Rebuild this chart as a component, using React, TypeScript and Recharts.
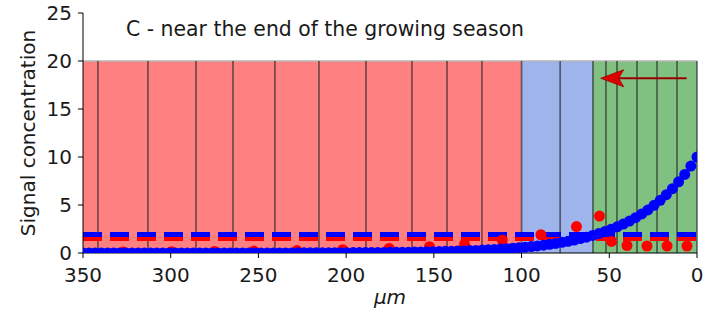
import React from 'react';
import {
    ComposedChart,
    Scatter,
    XAxis,
    YAxis,
    ReferenceArea,
    ReferenceLine,
    ReferenceDot
} from 'recharts';

// cell boundaries along the root (µm), left to right on the reversed axis
const cellEdges = [350, 341.5, 313, 285.6, 264.5, 240.6, 215.5, 188.7, 162.5, 142.5, 122.6, 100, 78, 59.3, 51.9, 45.6, 34.2, 22.8, 11.4, 0];
const cellZones = ['red', 'red', 'red', 'red', 'red', 'red', 'red', 'red', 'red', 'red', 'red', 'blue', 'blue', 'green', 'green', 'green', 'green', 'green', 'green'];

// measured signal per cell (red dots)
const cellX = [327, 299.5, 275, 252.6, 228, 202, 175.5, 152.5, 132.5, 111, 89, 68.7, 55.6, 48.7, 39.9, 28.5, 17.1, 5.7];
const cellY = [0.1, 0.12, 0.15, 0.2, 0.25, 0.35, 0.48, 0.65, 0.92, 1.35, 1.9, 2.75, 3.85, 1.2, 0.78, 0.73, 0.73, 0.73];

// signal profile (blue dots)
const profileX = [
    0, 3.5, 7, 10.5, 14, 17.5, 21, 24.5, 28, 31.5,
    35, 38.5, 42, 45.5, 49, 52.5, 56, 59.5, 63, 66.5,
    70, 73.5, 77, 80.5, 84, 87.5, 91, 94.5, 98, 101.5,
    105, 108.5, 112, 115.5, 119, 122.5, 126, 129.5, 133, 136.5,
    140, 143.5, 147, 150.5, 154, 157.5, 161, 164.5, 168, 171.5,
    175, 178.5, 182, 185.5, 189, 192.5, 196, 199.5, 203, 206.5,
    210, 213.5, 217, 220.5, 224, 227.5, 231, 234.5, 238, 241.5,
    245, 248.5, 252, 255.5, 259, 262.5, 266, 269.5, 273, 276.5,
    280, 283.5, 287, 290.5, 294, 297.5, 301, 304.5, 308, 311.5,
    315, 318.5, 322, 325.5, 329, 332.5, 336, 339.5, 343, 346.5,
    350
];
const profileY = [
    10.0, 9.05, 8.19, 7.41, 6.7, 6.07, 5.49, 4.97, 4.49, 4.07,
    3.68, 3.33, 3.01, 2.73, 2.47, 2.23, 2.02, 1.83, 1.65, 1.5,
    1.35, 1.22, 1.11, 1.0, 0.91, 0.82, 0.74, 0.67, 0.61, 0.55,
    0.5, 0.45, 0.41, 0.37, 0.33, 0.3, 0.27, 0.25, 0.22, 0.2,
    0.18, 0.17, 0.15, 0.14, 0.12, 0.11, 0.1, 0.09, 0.08, 0.07,
    0.07, 0.06, 0.05, 0.05, 0.04, 0.04, 0.04, 0.03, 0.03, 0.03,
    0.02, 0.02, 0.02, 0.02, 0.02, 0.02, 0.01, 0.01, 0.01, 0.01,
    0.01, 0.01, 0.01, 0.01, 0.01, 0.01, 0.01, 0.01, 0.01, 0.01,
    0.01, 0, 0, 0, 0, 0, 0, 0, 0, 0,
    0, 0, 0, 0, 0, 0, 0, 0, 0, 0,
    0
];

const redMean = 1.51;
const blueMean = 1.93;
const cellTop = 20;
const arrowTail = 5.9;
const arrowTip = 54.9;
const arrowLevel = 18.2;

const xTicks = [0, 50, 100, 150, 200, 250, 300, 350];
const yTicks = [0, 5, 10, 15, 20, 25];

const zoneFill: Record<string, string> = {
    red: '#ff8080',
    blue: '#a0b4ec',
    green: '#80c080'
};

const font = '"DejaVu Sans", sans-serif';

const cellPoints = cellX.map((x, i) => ({ x, y: cellY[i] }));
const profilePoints = profileX.map((x, i) => ({ x, y: profileY[i] }));

const Dot = (color: string, r: number) => (p: any) => (
    <circle cx={p.cx} cy={p.cy} r={r} fill={color} />
);

const ArrowHead = (p: any) => {
    const { cx, cy } = p;
    const pts = `${cx},${cy} ${cx + 23},${cy - 8.5} ${cx + 18},${cy} ${cx + 23},${cy + 8.5}`;
    return <polygon points={pts} fill="#dd0000" stroke="#a00000" strokeWidth={0.8} />;
};

const App: React.FC = () => {
    return (
        <div style={{ position: 'absolute', left: 0, top: 0, width: 712, height: 314, background: '#fff', fontFamily: font }}>
            <div
                style={{
                    position: 'absolute',
                    left: 126,
                    top: 19,
                    fontSize: 20.4,
                    lineHeight: '20px',
                    color: '#1a1a1a',
                    whiteSpace: 'nowrap',
                    zIndex: 2
                }}
            >
                C - near the end of the growing season
            </div>
            <ComposedChart width={712} height={314} margin={{ top: 13, right: 15, bottom: 0, left: 0 }}>
                <XAxis
                    type="number"
                    dataKey="x"
                    domain={[0, 350]}
                    ticks={xTicks}
                    reversed
                    allowDataOverflow
                    height={61}
                    tickSize={5}
                    tickMargin={10}
                    axisLine={{ stroke: '#000' }}
                    tickLine={{ stroke: '#000' }}
                    tick={{ fill: '#1a1a1a', fontSize: 20, fontFamily: font }}
                    label={{ value: 'μm', position: 'insideBottom', offset: 10, fill: '#1a1a1a', fontSize: 20, fontFamily: font, fontStyle: 'italic' }}
                />
                <YAxis
                    type="number"
                    dataKey="y"
                    domain={[0, 25]}
                    ticks={yTicks}
                    allowDataOverflow
                    width={83}
                    tickSize={5}
                    tickMargin={6}
                    axisLine={{ stroke: '#000' }}
                    tickLine={{ stroke: '#000' }}
                    tick={{ fill: '#1a1a1a', fontSize: 20, fontFamily: font }}
                    label={{
                        value: 'Signal concentration',
                        angle: -90,
                        position: 'insideLeft',
                        offset: 28,
                        fill: '#1a1a1a',
                        fontSize: 20,
                        fontFamily: font,
                        style: { textAnchor: 'middle' }
                    }}
                />

                {cellZones.map((z, i) => (
                    <ReferenceArea
                        key={`cell-${i}`}
                        x1={cellEdges[i]}
                        x2={cellEdges[i + 1]}
                        y1={0}
                        y2={cellTop}
                        fill={zoneFill[z]}
                        fillOpacity={1}
                        stroke="none"
                    />
                ))}
                <ReferenceLine
                    segment={[{ x: 350, y: cellTop }, { x: 0, y: cellTop }]}
                    stroke="#b4b4b4"
                    strokeWidth={1.5}
                />
                {cellEdges.slice(1).map((e, i) => (
                    <ReferenceLine
                        key={`edge-${i}`}
                        segment={[{ x: e, y: 0 }, { x: e, y: cellTop }]}
                        stroke="rgba(30,30,30,0.65)"
                        strokeWidth={1.6}
                    />
                ))}

                <ReferenceLine
                    segment={[{ x: 350, y: redMean }, { x: 0, y: redMean }]}
                    stroke="#ff0000"
                    strokeWidth={5}
                    strokeDasharray="19 8"
                />
                <ReferenceLine
                    segment={[{ x: 350, y: blueMean }, { x: 0, y: blueMean }]}
                    stroke="#0000ff"
                    strokeWidth={5}
                    strokeDasharray="19 8"
                />

                <Scatter data={cellPoints} dataKey="y" shape={Dot('#ff0000', 5.5)} isAnimationActive={false} />
                <Scatter data={profilePoints} dataKey="y" shape={Dot('#0000ff', 5.5)} isAnimationActive={false} />

                <ReferenceLine
                    segment={[{ x: arrowTail, y: arrowLevel }, { x: arrowTip - 10, y: arrowLevel }]}
                    stroke="#9a0000"
                    strokeWidth={2}
                />
                <ReferenceDot x={arrowTip} y={arrowLevel} shape={ArrowHead} />
            </ComposedChart>
        </div>
    );
};

export default App;
